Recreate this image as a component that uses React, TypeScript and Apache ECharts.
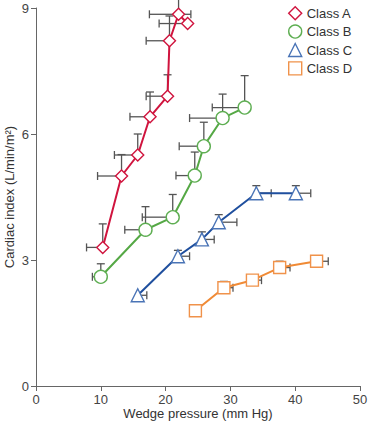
import React, { useEffect, useRef } from "react";
import * as echarts from "echarts";

// Class A (diamonds)
const aX = [10.3, 13.2, 15.7, 17.6, 20.3, 20.6, 22.0, 23.4];
const aY = [3.3, 5.0, 5.5, 6.41, 6.9, 8.22, 8.85, 8.63];
const aXLo = [7.8, 9.5, 12.1, 14.5, 17.0, 17.0, 17.5, 19.0];
const aXHi = [null, null, null, null, null, null, 23.9, null];
const aYHi = [3.86, 5.51, 6.0, 7.0, 7.41, 8.81, 9.25, null];

// Class B (circles)
const bX = [10.0, 16.9, 21.1, 24.5, 25.9, 28.8, 32.2];
const bY = [2.6, 3.72, 4.02, 5.01, 5.71, 6.38, 6.63];
const bXLo = [8.7, 13.7, 16.4, 21.6, 22.1, 23.7, 27.2];
const bXHi = [null, null, null, null, null, null, null];
const bYHi = [2.91, 4.27, 4.56, 5.57, 6.28, 6.95, 7.39];

// Class C (triangles)
const cX = [15.7, 21.9, 25.6, 28.2, 34.0, 40.1];
const cY = [2.16, 3.09, 3.49, 3.9, 4.59, 4.59];
const cXLo = [null, null, null, null, null, null];
const cXHi = [17.1, 23.7, 27.5, 31.0, 36.3, 42.4];
const cYHi = [null, 3.23, 3.67, 4.08, 4.77, 4.77];

// Class D (squares)
const dX = [24.6, 29.0, 33.4, 37.6, 43.3];
const dY = [1.79, 2.34, 2.52, 2.82, 2.97];
const dXLo = [null, null, null, null, null];
const dXHi = [25.5, 30.4, 34.8, 39.2, 45.1];
const dYHi = [null, 2.49, null, 2.97, 3.1];

const names = ["Class A", "Class B", "Class C", "Class D"];
const colors = ["#d0143e", "#55a845", "#1f4f9e", "#f08a35"];
const markerColors = ["#d0143e", "#5eae52", "#4a74b6", "#f0924a"];
const symbols = ["diamond", "circle", "triangle", "rect"];
const symbolSizes = [12, 13, 13, 12];

const xTicks = [0, 10, 20, 30, 40, 50];
const yTicks = [0, 3, 6, 9];

const FONT = "Liberation Sans, Arial, sans-serif";

type Arr = (number | null)[];

function errSeries(
  xs: number[],
  ys: number[],
  xLo: Arr,
  xHi: Arr,
  yHi: Arr
): any {
  return {
    type: "custom",
    silent: true,
    z: 1,
    data: xs.map((x, i) => [x, ys[i]]),
    encode: { x: 0, y: 1 },
    renderItem: (params: any, api: any) => {
      const i = params.dataIndex;
      const c = api.coord([xs[i], ys[i]]);
      const children: any[] = [];
      const style = { stroke: "#555", lineWidth: 1.3 };
      const cap = 4;
      const hx = (v: number | null) => {
        if (v == null) return;
        const p = api.coord([v, ys[i]]);
        children.push({ type: "line", shape: { x1: c[0], y1: c[1], x2: p[0], y2: p[1] }, style });
        children.push({ type: "line", shape: { x1: p[0], y1: p[1] - cap, x2: p[0], y2: p[1] + cap }, style });
      };
      hx(xLo[i]);
      hx(xHi[i]);
      if (yHi[i] != null) {
        const p = api.coord([xs[i], yHi[i] as number]);
        children.push({ type: "line", shape: { x1: c[0], y1: c[1], x2: p[0], y2: p[1] }, style });
        children.push({ type: "line", shape: { x1: p[0] - cap, y1: p[1], x2: p[0] + cap, y2: p[1] }, style });
      }
      return { type: "group", children };
    },
  };
}

function lineSeries(k: number, xs: number[], ys: number[]): any {
  return {
    type: "line",
    name: names[k],
    z: 3,
    data: xs.map((x, i) => [x, ys[i]]),
    symbol: symbols[k],
    symbolSize: symbolSizes[k],
    lineStyle: { color: colors[k], width: 2 },
    itemStyle: { color: "#fff", borderColor: markerColors[k], borderWidth: 1.4 },
  };
}

export default function App() {
  const ref = useRef<HTMLDivElement>(null);
  useEffect(() => {
    const chart = echarts.init(ref.current!, null, { renderer: "svg" });
    chart.setOption({
      animation: false,
      textStyle: { fontFamily: FONT },
      grid: { left: 36, right: 8, top: 8, bottom: 44, containLabel: false, outerBoundsMode: "none" },
      legend: {
        orient: "vertical",
        left: 283,
        top: 1,
        itemWidth: 13,
        itemHeight: 13,
        itemGap: 4,
        textStyle: { fontSize: 13, color: "#333", fontFamily: FONT },
        data: names.map((n, k) => ({
          name: n,
          icon: symbols[k],
          itemStyle: { color: "#fff", borderColor: markerColors[k], borderWidth: 1.4 },
        })),
      },
      xAxis: {
        type: "value",
        min: xTicks[0],
        max: xTicks[xTicks.length - 1],
        interval: 10,
        name: "Wedge pressure (mm Hg)",
        nameLocation: "middle",
        nameGap: 21,
        nameMoveOverlap: false,
        nameTextStyle: { fontSize: 13, color: "#333", fontFamily: FONT },
        axisLine: { lineStyle: { color: "#666" } },
        axisTick: { lineStyle: { color: "#666" }, length: 5 },
        axisLabel: { fontSize: 13, color: "#444", margin: 7 },
        splitLine: { show: false },
      },
      yAxis: {
        type: "value",
        min: yTicks[0],
        max: yTicks[yTicks.length - 1],
        interval: 3,
        name: "Cardiac index (L/min/m²)",
        nameLocation: "middle",
        nameGap: 20,
        nameMoveOverlap: false,
        nameTextStyle: { fontSize: 13, color: "#333", fontFamily: FONT },
        axisLine: { show: true, lineStyle: { color: "#666" } },
        axisTick: { show: true, lineStyle: { color: "#666" }, length: 5 },
        axisLabel: { fontSize: 13, color: "#444", margin: 7 },
        splitLine: { show: false },
      },
      series: [
        errSeries(aX, aY, aXLo, aXHi, aYHi),
        errSeries(bX, bY, bXLo, bXHi, bYHi),
        errSeries(cX, cY, cXLo, cXHi, cYHi),
        errSeries(dX, dY, dXLo, dXHi, dYHi),
        lineSeries(0, aX, aY),
        lineSeries(1, bX, bY),
        lineSeries(2, cX, cY),
        lineSeries(3, dX, dY),
      ],
    });
    return () => chart.dispose();
  }, []);
  return (
    <div
      ref={ref}
      style={{ position: "fixed", left: 0, top: 0, width: 368, height: 430, background: "#fff" }}
    />
  );
}
